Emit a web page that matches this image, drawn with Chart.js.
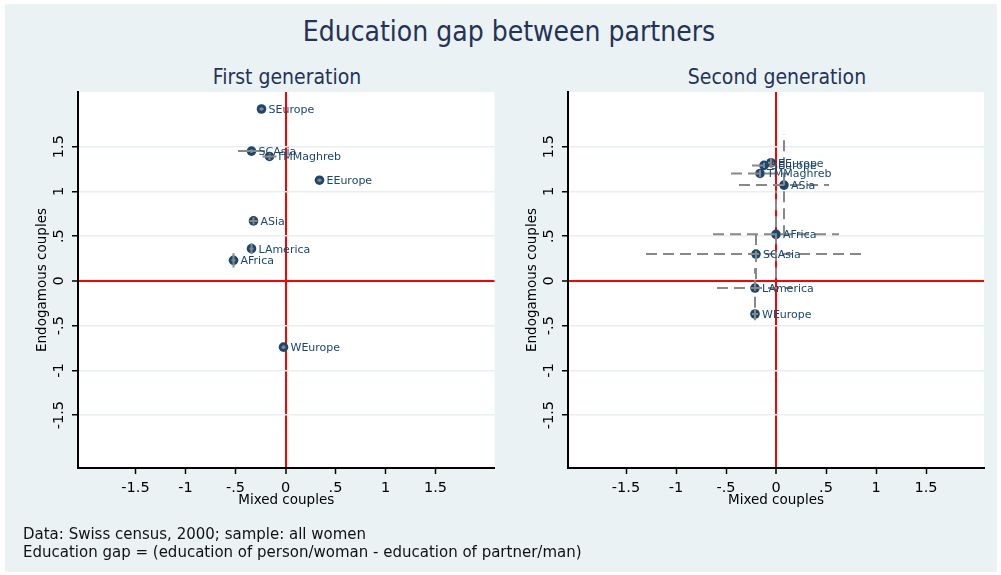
<!DOCTYPE html>
<html>
<head>
<meta charset="utf-8">
<script src="https://cdn.jsdelivr.net/npm/chart.js@4.4.1/dist/chart.umd.min.js"></script>
<style>
body { margin:0; background:#fff; width:1001px; height:575px; position:relative; overflow:hidden; font-family:"DejaVu Sans", sans-serif; }
#frame { position:absolute; left:5px; top:4px; width:992px; height:568px; background:#eaf2f3; }
.ttl { position:absolute; font-family:"DejaVu Sans Condensed","DejaVu Sans",sans-serif; font-stretch:condensed; color:#24325a; text-align:center; white-space:nowrap; }
#main { left:209px; width:600px; top:16px; font-size:28px; line-height:32px; }
#t1 { left:87px; width:400px; top:64px; font-size:21px; line-height:26px; }
#t2 { left:577px; width:400px; top:64px; font-size:21px; line-height:26px; }
.note { position:absolute; left:23px; font-size:15px; line-height:18px; color:#111; white-space:nowrap; }
canvas { position:absolute; top:0; }
</style>
</head>
<body>
<div id="frame"></div>
<div class="ttl" id="main">Education gap between partners</div>
<div class="ttl" id="t1">First generation</div>
<div class="ttl" id="t2">Second generation</div>
<canvas id="c1" width="500" height="575" style="left:0"></canvas>
<canvas id="c2" width="501" height="575" style="left:500px"></canvas>
<div class="note" style="top:525px">Data: Swiss census, 2000; sample: all women</div>
<div class="note" style="top:543px">Education gap = (education of person/woman - education of partner/man)</div>
<script>
// first generation
const groups1 = ['SEurope', 'SCAsia', 'TMMaghreb', 'EEurope', 'ASia', 'LAmerica', 'AFrica', 'WEurope'];
const mixed1 = [-0.24, -0.34, -0.16, 0.34, -0.32, -0.34, -0.52, -0.02];
const endo1 = [1.92, 1.45, 1.39, 1.125, 0.67, 0.36, 0.23, -0.74];
const mixedErr1 = [0.02, 0.135, 0.07, 0.02, 0.04, 0.02, 0.02, 0.02];
const endoErr1 = [0.02, 0.02, 0.04, 0.02, 0.04, 0.06, 0.08, 0.02];

// second generation
const groups2 = ['SEurope', 'EEurope', 'TMMaghreb', 'ASia', 'AFrica', 'SCAsia', 'LAmerica', 'WEurope'];
const mixed2 = [-0.12, -0.05, -0.16, 0.08, 0.0, -0.2, -0.21, -0.21];
const endo2 = [1.29, 1.32, 1.2, 1.07, 0.52, 0.3, -0.08, -0.37];
const mixedErr2 = [0.12, 0.03, 0.29, 0.45, 0.63, 1.1, 0.38, 0.03];
const endoErr2 = [0.03, 0.05, 0.04, 0.57, 0.49, 0.28, 0.22, 0.07];

const xTicks = [-1.5, -1, -0.5, 0, 0.5, 1, 1.5];
const xTickLabels = ['-1.5', '-1', '-.5', '0', '.5', '1', '1.5'];
const yTicks = [-1.5, -1, -0.5, 0, 0.5, 1, 1.5];
const yTickLabels = ['-1.5', '-1', '-.5', '0', '.5', '1', '1.5'];

const navy = '#1a476f';

const stataPlugin = {
    id: 'stata',
    beforeDraw(chart) {
        const a = chart.chartArea;
        const ctx = chart.ctx;
        ctx.save();
        ctx.fillStyle = '#fff';
        ctx.fillRect(a.left, a.top, a.right - a.left, a.bottom - a.top);
        ctx.restore();
    },
    afterDatasetsDraw(chart) {
        const ctx = chart.ctx;
        const xs = chart.scales.x, ys = chart.scales.y;
        const o = chart.options.plugins.stata;
        ctx.save();
        // error bars
        ctx.strokeStyle = '#888';
        ctx.lineWidth = 2;
        ctx.setLineDash(o.dashed ? [11, 6] : []);
        o.xv.forEach((x, i) => {
            const y = o.yv[i];
            ctx.beginPath();
            ctx.moveTo(xs.getPixelForValue(x - o.xe[i]), ys.getPixelForValue(y));
            ctx.lineTo(xs.getPixelForValue(x + o.xe[i]), ys.getPixelForValue(y));
            ctx.moveTo(xs.getPixelForValue(x), ys.getPixelForValue(y - o.ye[i]));
            ctx.lineTo(xs.getPixelForValue(x), ys.getPixelForValue(y + o.ye[i]));
            ctx.stroke();
        });
        ctx.setLineDash([]);
        // marker labels
        ctx.fillStyle = navy;
        ctx.font = '11px "DejaVu Sans"';
        ctx.textAlign = 'left';
        ctx.textBaseline = 'middle';
        o.names.forEach((n, i) => {
            ctx.fillText(n, xs.getPixelForValue(o.xv[i]) + 7, ys.getPixelForValue(o.yv[i]) + 1);
        });
        ctx.restore();
    },
    afterDraw(chart) {
        const ctx = chart.ctx;
        const a = chart.chartArea;
        const ys = chart.scales.y;
        ctx.save();
        ctx.fillStyle = '#000';
        ctx.textAlign = 'center';
        ctx.textBaseline = 'middle';
        ctx.font = '14.5px "DejaVu Sans"';
        yTicks.forEach((v, i) => {
            ctx.save();
            ctx.translate(a.left - 19, ys.getPixelForValue(v));
            ctx.rotate(-Math.PI / 2);
            ctx.fillText(yTickLabels[i], 0, 0);
            ctx.restore();
        });
        ctx.font = '13.5px "DejaVu Sans"';
        ctx.translate(a.left - 36, (a.top + a.bottom) / 2);
        ctx.rotate(-Math.PI / 2);
        ctx.fillText('Endogamous couples', 0, 0);
        ctx.restore();
    }
};

function makeChart(id, names, xv, yv, xe, ye, dashed, pad, xmin, xmax) {
    const ctx = document.getElementById(id).getContext('2d');
    return new Chart(ctx, {
        type: 'scatter',
        data: {
            datasets: [{
                data: xv.map((x, i) => ({x: x, y: yv[i]})),
                backgroundColor: navy,
                borderColor: navy,
                borderWidth: 0,
                pointRadius: 4.8,
                pointHoverRadius: 4.8
            }]
        },
        options: {
            responsive: false,
            animation: false,
            events: [],
            layout: {autoPadding: false, padding: pad},
            plugins: {
                legend: {display: false},
                tooltip: {enabled: false},
                stata: {names: names, xv: xv, yv: yv, xe: xe, ye: ye, dashed: dashed}
            },
            scales: {
                x: {
                    type: 'linear',
                    min: xmin,
                    max: xmax,
                    afterBuildTicks: s => { s.ticks = xTicks.map(v => ({value: v})); },
                    grid: {
                        color: c => (c.tick && c.tick.value === 0) ? '#ff0000' : 'rgba(0,0,0,0)',
                        lineWidth: c => (c.tick && c.tick.value === 0) ? 2 : 1,
                        tickColor: '#000',
                        tickLength: 6,
                        tickWidth: 1.5
                    },
                    border: {color: '#000', width: 2},
                    ticks: {
                        color: '#000',
                        font: {family: 'DejaVu Sans', size: 14.5},
                        padding: 6,
                        maxRotation: 0,
                        autoSkip: false,
                        callback: (v, i) => xTickLabels[i]
                    },
                    title: {
                        display: true,
                        text: 'Mixed couples',
                        color: '#000',
                        font: {family: 'DejaVu Sans', size: 13.5},
                        padding: {top: -11, bottom: 0}
                    }
                },
                y: {
                    type: 'linear',
                    min: -2.09,
                    max: 2.11,
                    afterBuildTicks: s => { s.ticks = yTicks.map(v => ({value: v})); },
                    grid: {
                        color: c => (c.tick && c.tick.value === 0) ? '#ff0000' : '#e8eff1',
                        lineWidth: c => (c.tick && c.tick.value === 0) ? 2 : 1.5,
                        tickColor: '#000',
                        tickLength: 6,
                        tickWidth: 1.5
                    },
                    border: {color: '#000', width: 2},
                    ticks: {display: false}
                }
            }
        },
        plugins: [stataPlugin]
    });
}

makeChart('c1', groups1, mixed1, endo1, mixedErr1, endoErr1, false,
    {left: 72, top: 92, right: 5.5, bottom: 66.4}, -2.075, 2.09);
makeChart('c2', groups2, mixed2, endo2, mixedErr2, endoErr2, true,
    {left: 62, top: 92, right: 17, bottom: 66.4}, -2.08, 2.08);
</script>
</body>
</html>
